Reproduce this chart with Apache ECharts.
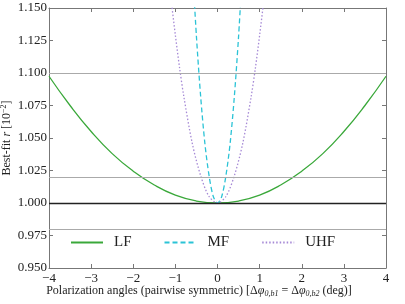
<!DOCTYPE html>
<html>
<head>
<meta charset="utf-8">
<script src="https://cdn.jsdelivr.net/npm/echarts@6/dist/echarts.min.js"></script>
<style>html,body{margin:0;padding:0;background:#fff}#c{width:405px;height:304px}</style>
</head>
<body>
<div id="c"></div>
<script>
// Polarization angle offsets (deg)
const lfX  = [-4, -3.5, -3, -2.5, -2, -1.5, -1, -0.5, 0, 0.5, 1, 1.5, 2, 2.5, 3, 3.5, 4];
const lfR  = [1.0975, 1.075, 1.055, 1.038, 1.0245, 1.0138, 1.006, 1.0015, 1.000, 1.0015, 1.006, 1.0138, 1.0245, 1.038, 1.055, 1.075, 1.0975];
const mfX  = [-0.6, -0.5, -0.4, -0.3, -0.2, -0.1, 0, 0.1, 0.2, 0.3, 0.4, 0.5, 0.6];
const mfR  = [1.184, 1.128, 1.082, 1.046, 1.021, 1.005, 1.000, 1.005, 1.021, 1.046, 1.082, 1.128, 1.184];
const uhfX = [-1.2, -1.1, -1.0, -0.9, -0.8, -0.6, -0.4, -0.2, 0, 0.2, 0.4, 0.6, 0.8, 0.9, 1.0, 1.1, 1.2];
const uhfR = [1.185, 1.156, 1.129, 1.104, 1.082, 1.046, 1.021, 1.005, 1.000, 1.005, 1.021, 1.046, 1.082, 1.104, 1.129, 1.156, 1.185];
const grayLevels = [1.10, 1.02, 0.98];
const blackLevel = 1.00;
const seriesNames = ['LF', 'MF', 'UHF'];

const font = 'Liberation Serif';
const pair = (xs, ys) => xs.map((x, i) => [x, ys[i]]);
const chart = echarts.init(document.getElementById('c'), null, {renderer: 'canvas'});
const axisLine = {show: true, onZero: false, lineStyle: {color: '#777', width: 1}};
const tick = {show: true, inside: true, length: 4, lineStyle: {color: '#777'}};
chart.setOption({
  animation: false,
  grid: {left: 49, right: 19, top: 8, bottom: 36, containLabel: false, outerBoundsMode: 'none'},
  legend: {
    data: seriesNames, left: 70, top: 235, padding: 0, itemWidth: 32, itemHeight: 14, itemGap: 32,
    itemStyle: {opacity: 0},
    textStyle: {fontFamily: font, fontSize: 15, color: '#222', padding: [0, 0, 0, 6]}
  },
  xAxis: [{
    type: 'value', min: -4, max: 4, interval: 1, position: 'bottom',
    axisLine, axisTick: tick, splitLine: {show: false},
    axisLabel: {fontFamily: font, fontSize: 13, color: '#222', margin: 4,
      formatter: v => v < 0 ? '\u2212' + Math.abs(v) : String(v)},
    name: '{t|Polarization angles (pairwise symmetric) [Δ}{i|φ}{s|0,b1}{t| = Δ}{i|φ}{s|0,b2}{t| (deg)]}',
    nameLocation: 'middle', nameGap: 16, nameMoveOverlap: false,
    nameTextStyle: {padding: [0, 37, 0, 0], rich: {
      t: {fontFamily: font, fontSize: 12, color: '#222'},
      i: {fontFamily: font, fontSize: 12, fontStyle: 'italic', color: '#222'},
      s: {fontFamily: font, fontSize: 8, fontStyle: 'italic', color: '#222', padding: [6, 0, 0, 0]}
    }}
  }, {
    type: 'value', min: -4, max: 4, interval: 1, position: 'top',
    axisLine, axisTick: tick, axisLabel: {show: false}, splitLine: {show: false}
  }],
  yAxis: [{
    type: 'value', min: 0.95, max: 1.15, interval: 0.025, position: 'left',
    axisLine, axisTick: tick, splitLine: {show: false},
    axisLabel: {fontFamily: font, fontSize: 13, color: '#222', margin: 2, formatter: v => v.toFixed(3)},
    name: '{t|Best-fit }{i|r}{t| [10}{s|−2}{t|]}', nameLocation: 'middle', nameGap: 35, nameMoveOverlap: false,
    nameTextStyle: {rich: {
      t: {fontFamily: font, fontSize: 12, color: '#222'},
      i: {fontFamily: font, fontSize: 12, fontStyle: 'italic', color: '#222'},
      s: {fontFamily: font, fontSize: 8, color: '#222', padding: [0, 0, 6, 0]}
    }}
  }, {
    type: 'value', min: 0.95, max: 1.15, interval: 0.025, position: 'right',
    axisLine, axisTick: tick, axisLabel: {show: false}, splitLine: {show: false}
  }],
  series: [{
    name: 'LF', type: 'line', data: pair(lfX, lfR), symbol: 'none', smooth: true,
    lineStyle: {color: '#3aa83a', width: 1.3}, itemStyle: {color: '#3aa83a'}, z: 3,
    markLine: {
      silent: true, symbol: 'none', label: {show: false}, animation: false,
      data: grayLevels.map(v => ({yAxis: v, lineStyle: {color: '#aaa', width: 1.2, type: 'solid'}}))
        .concat([{yAxis: blackLevel, lineStyle: {color: '#222', width: 1.4, type: 'solid'}}])
    }
  }, {
    name: 'MF', type: 'line', data: pair(mfX, mfR), symbol: 'none', smooth: 0.3,
    lineStyle: {color: '#2bc3d6', width: 1.3, type: [5, 3]}, itemStyle: {color: '#2bc3d6'}, z: 4
  }, {
    name: 'UHF', type: 'line', data: pair(uhfX, uhfR), symbol: 'none', smooth: 0.3,
    lineStyle: {color: '#a68ad6', width: 1.3, type: [1.5, 2]}, itemStyle: {color: '#a68ad6'}, z: 4
  }]
});
</script>
</body>
</html>
